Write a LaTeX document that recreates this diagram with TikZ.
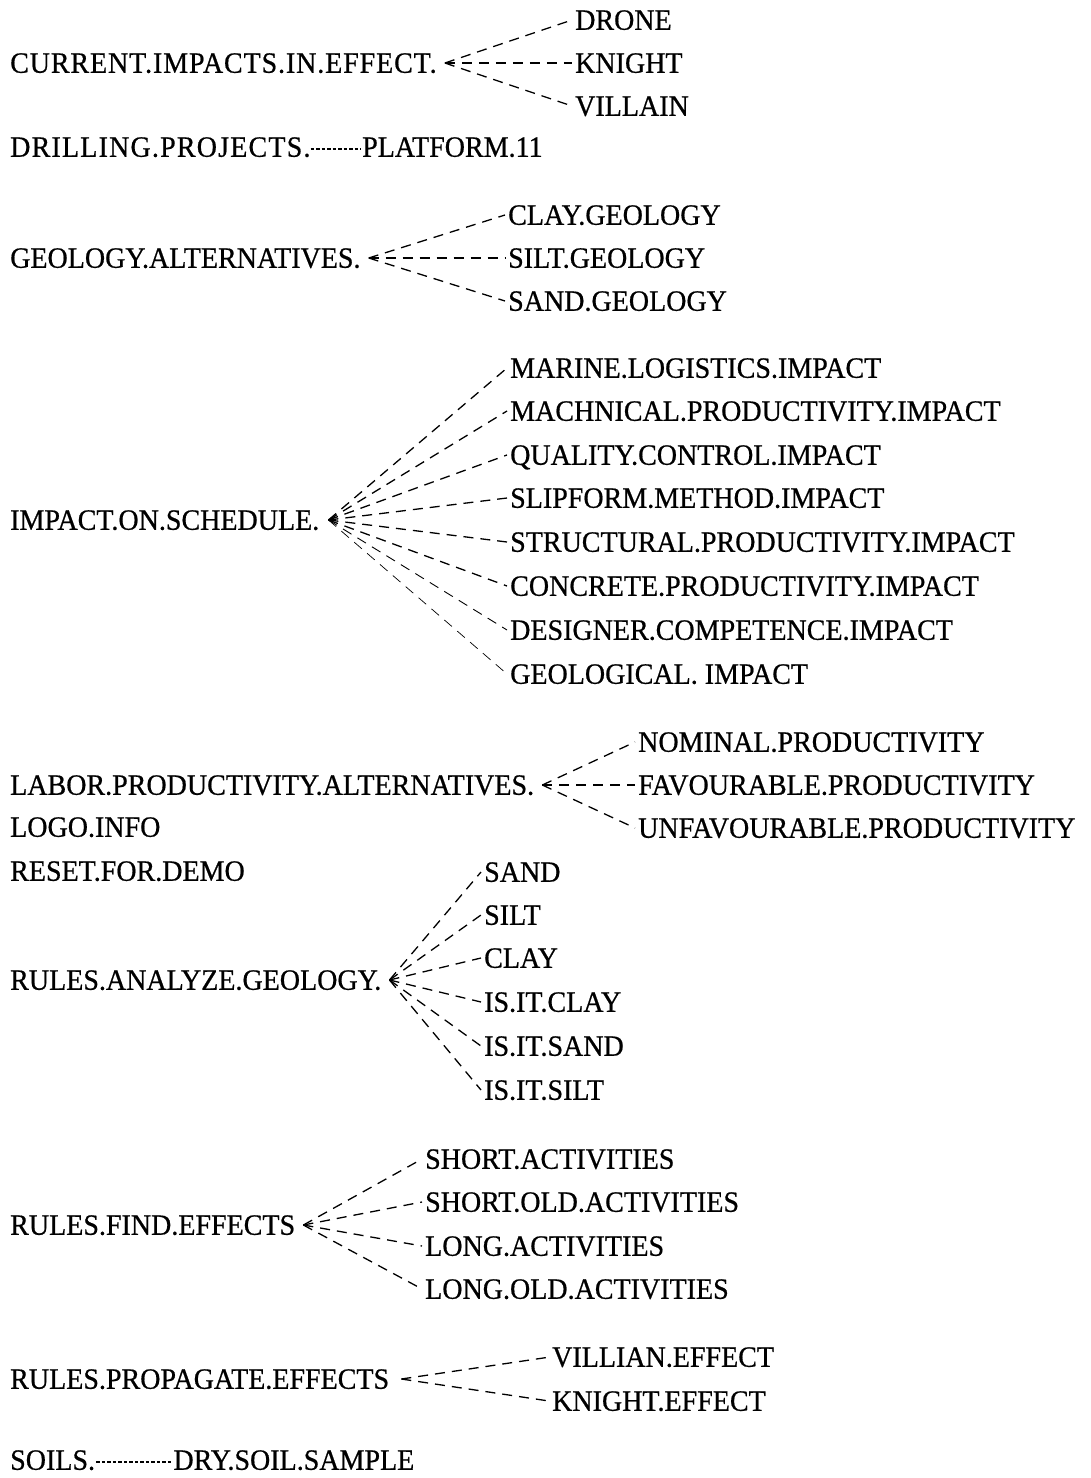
\documentclass[tikz,border=0pt]{standalone}
\usepackage{fontspec}
\setmainfont[FakeStretch=0.95, FakeBold=0.6]{Liberation Serif}
\usetikzlibrary{positioning}

\begin{document}
\begin{tikzpicture}[x=1pt, y=-1pt,
    lbl/.style={anchor=west, inner sep=0pt, text height=19.5pt, text depth=0pt,
                font=\fontsize{29.5}{32}\selectfont},
    lnk/.style={line width=1.3pt, dash pattern=on 10pt off 7pt},
    hyph/.style={line width=1.1pt, dash pattern=on 3.5pt off 2pt}
  ]
  \useasboundingbox (0,0) rectangle (1090,1478);

  % current impacts
  \node[lbl] (cur) at (10,63) {\addfontfeatures{LetterSpace=3}CURRENT.IMPACTS.IN.EFFECT.};
  \node[lbl] (drone) at (575,20) {DRONE};
  \node[lbl] (knight) at (575,63) {KNIGHT};
  \node[lbl] (villain) at (575,106) {VILLAIN};
  \coordinate (curO) at ([xshift=8pt]cur.east);
  \draw[lnk] (curO) -- ([xshift=-3pt]drone.west);
  \draw[lnk] (curO) -- ([xshift=-3pt]knight.west);
  \draw[lnk] (curO) -- ([xshift=-3pt]villain.west);

  % drilling
  \node[lbl] (drill) at (10,147) {\addfontfeatures{LetterSpace=4}DRILLING.PROJECTS.};
  \node[lbl] (plat) at (362,147) {PLATFORM.11};
  \draw[hyph] ([xshift=0pt,yshift=-2pt]drill.east) -- ([xshift=-1pt,yshift=-2pt]plat.west);

  % geology alternatives
  \node[lbl] (geoalt) at (10,258) {GEOLOGY.ALTERNATIVES.};
  \node[lbl] (clayg) at (508,215) {CLAY.GEOLOGY};
  \node[lbl] (siltg) at (508,258) {SILT.GEOLOGY};
  \node[lbl] (sandg) at (508,301) {SAND.GEOLOGY};
  \coordinate (geoO) at ([xshift=8pt]geoalt.east);
  \draw[lnk] (geoO) -- ([xshift=-3pt]clayg.west);
  \draw[lnk] (geoO) -- ([xshift=-3pt]siltg.west);
  \draw[lnk] (geoO) -- ([xshift=-3pt]sandg.west);

  % impact on schedule
  \node[lbl] (sched) at (10,520) {IMPACT.ON.SCHEDULE.};
  \node[lbl] (marine) at (510,368) {MARINE.LOGISTICS.IMPACT};
  \node[lbl] (mach) at (510,411) {MACHNICAL.PRODUCTIVITY.IMPACT};
  \node[lbl] (qual) at (510,455) {QUALITY.CONTROL.IMPACT};
  \node[lbl] (slip) at (510,498) {SLIPFORM.METHOD.IMPACT};
  \node[lbl] (struct) at (510,542) {STRUCTURAL.PRODUCTIVITY.IMPACT};
  \node[lbl] (conc) at (510,586) {CONCRETE.PRODUCTIVITY.IMPACT};
  \node[lbl] (design) at (510,630) {DESIGNER.COMPETENCE.IMPACT};
  \node[lbl] (geol) at (510,674) {GEOLOGICAL. IMPACT};
  \coordinate (schedO) at ([xshift=9pt]sched.east);
  \draw[lnk] (schedO) -- ([xshift=-3pt]marine.west);
  \draw[lnk] (schedO) -- ([xshift=-3pt]mach.west);
  \draw[lnk] (schedO) -- ([xshift=-3pt]qual.west);
  \draw[lnk] (schedO) -- ([xshift=-3pt]slip.west);
  \draw[lnk] (schedO) -- ([xshift=-3pt]struct.west);
  \draw[lnk] (schedO) -- ([xshift=-3pt]conc.west);
  \draw[lnk, line width=0.9pt] (schedO) -- ([xshift=-3pt]design.west);
  \draw[lnk, line width=0.7pt] (schedO) -- ([xshift=-3pt]geol.west);

  % labor productivity
  \node[lbl] (labor) at (10,785) {LABOR.PRODUCTIVITY.ALTERNATIVES.};
  \node[lbl] (nominal) at (638,742) {NOMINAL.PRODUCTIVITY};
  \node[lbl] (fav) at (638,785) {FAVOURABLE.PRODUCTIVITY};
  \node[lbl] (unfav) at (638,828) {UNFAVOURABLE.PRODUCTIVITY};
  \coordinate (laborO) at ([xshift=8pt]labor.east);
  \draw[lnk] (laborO) -- ([xshift=-3pt]nominal.west);
  \draw[lnk] (laborO) -- ([xshift=-3pt]fav.west);
  \draw[lnk] (laborO) -- ([xshift=-3pt]unfav.west);

  \node[lbl] (logo) at (10,827) {LOGO.INFO};
  \node[lbl] (reset) at (10,871) {RESET.FOR.DEMO};

  % analyze geology
  \node[lbl] (analyze) at (10,980) {RULES.ANALYZE.GEOLOGY.};
  \node[lbl] (sand) at (484,872) {SAND};
  \node[lbl] (silt) at (484,915) {SILT};
  \node[lbl] (clay) at (484,958) {CLAY};
  \node[lbl] (isclay) at (484,1002) {IS.IT.CLAY};
  \node[lbl] (issand) at (484,1046) {IS.IT.SAND};
  \node[lbl] (issilt) at (484,1090) {IS.IT.SILT};
  \coordinate (anaO) at ([xshift=8pt]analyze.east);
  \draw[lnk] (anaO) -- ([xshift=-3pt]sand.west);
  \draw[lnk] (anaO) -- ([xshift=-3pt]silt.west);
  \draw[lnk] (anaO) -- ([xshift=-3pt]clay.west);
  \draw[lnk] (anaO) -- ([xshift=-3pt]isclay.west);
  \draw[lnk] (anaO) -- ([xshift=-3pt]issand.west);
  \draw[lnk] (anaO) -- ([xshift=-3pt]issilt.west);

  % find effects
  \node[lbl] (find) at (10,1225) {RULES.FIND.EFFECTS};
  \node[lbl] (short) at (425,1159) {SHORT.ACTIVITIES};
  \node[lbl] (shortold) at (425,1202) {SHORT.OLD.ACTIVITIES};
  \node[lbl] (long) at (425,1246) {LONG.ACTIVITIES};
  \node[lbl] (longold) at (425,1289) {LONG.OLD.ACTIVITIES};
  \coordinate (findO) at ([xshift=8pt]find.east);
  \draw[lnk] (findO) -- ([xshift=-3pt]short.west);
  \draw[lnk] (findO) -- ([xshift=-3pt]shortold.west);
  \draw[lnk] (findO) -- ([xshift=-3pt]long.west);
  \draw[lnk] (findO) -- ([xshift=-3pt]longold.west);

  % propagate effects
  \node[lbl] (prop) at (10,1379) {RULES.PROPAGATE.EFFECTS};
  \node[lbl] (villianE) at (552,1357) {VILLIAN.EFFECT};
  \node[lbl] (knightE) at (552,1401) {KNIGHT.EFFECT};
  \coordinate (propO) at ([xshift=12pt]prop.east);
  \draw[lnk] (propO) -- ([xshift=-2pt]villianE.west);
  \draw[lnk] (propO) -- ([xshift=-3pt]knightE.west);

  % soils
  \node[lbl] (soils) at (10,1460) {SOILS.};
  \node[lbl, right=78pt of soils] (drysoil) {DRY.SOIL.SAMPLE};
  \draw[hyph] ([xshift=1pt,yshift=-2pt]soils.east) -- ([xshift=-1pt,yshift=-2pt]drysoil.west);
\end{tikzpicture}
\end{document}
